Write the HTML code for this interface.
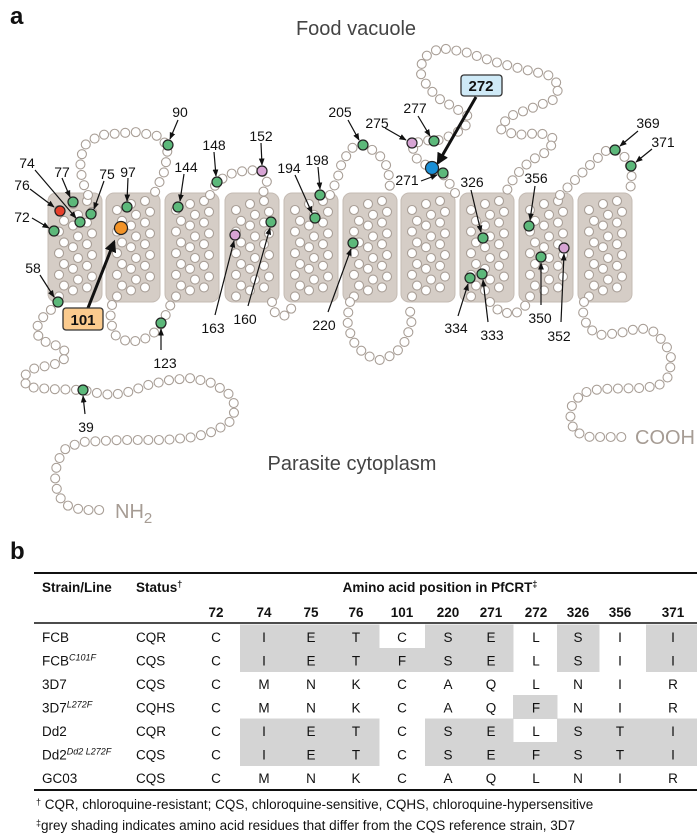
<!DOCTYPE html>
<html><head><meta charset="utf-8"><style>
html,body{margin:0;padding:0;background:#fff;}
svg{display:block;font-family:"Liberation Sans",Arial,sans-serif;}
.lb{font-family:"Liberation Sans Narrow","Liberation Sans",sans-serif;font-size:14px;fill:#111;text-anchor:middle;}
.tb{font-size:13.5px;fill:#111;}
.tc{text-anchor:middle;}
.hd{font-weight:bold;}
</style></head><body>
<svg id="s" width="697" height="839" viewBox="0 0 697 839" xmlns="http://www.w3.org/2000/svg">
<defs><marker id="ar" viewBox="0 0 10 10" refX="9" refY="5" markerWidth="6" markerHeight="6" orient="auto"><path d="M0,1 L10,5 L0,9 z" fill="#111"/></marker>
<marker id="ar2" viewBox="0 0 10 10" refX="8" refY="5" markerWidth="4" markerHeight="4" orient="auto"><path d="M0,0 L10,5 L0,10 z" fill="#111"/></marker></defs>
<g id="helices"></g>
<g id="loops"></g>
<text x="10" y="24" font-size="24" font-weight="bold" fill="#111">a</text>
<text x="356" y="35" font-size="20" fill="#444" text-anchor="middle">Food vacuole</text>
<text x="352" y="470" font-size="20" fill="#444" text-anchor="middle">Parasite cytoplasm</text>
<text x="115" y="518" font-size="20" fill="#a69c94">NH<tspan font-size="15" dy="5">2</tspan></text>
<text x="635" y="444" font-size="20" fill="#a69c94">COOH</text>
<g id="arrows" stroke="#111" stroke-width="1.2" fill="none">
<line x1="178" y1="120" x2="170" y2="139" marker-end="url(#ar)"/>
<line x1="35" y1="170" x2="76" y2="218" marker-end="url(#ar)"/>
<line x1="62" y1="178" x2="70" y2="197" marker-end="url(#ar)"/>
<line x1="104" y1="181" x2="94" y2="209" marker-end="url(#ar)"/>
<line x1="30" y1="189" x2="54" y2="207" marker-end="url(#ar)"/>
<line x1="32" y1="218" x2="49" y2="228" marker-end="url(#ar)"/>
<line x1="128" y1="178" x2="127" y2="201" marker-end="url(#ar)"/>
<line x1="40" y1="275" x2="54" y2="297" marker-end="url(#ar)"/>
<line x1="184" y1="174" x2="180" y2="201" marker-end="url(#ar)"/>
<line x1="214" y1="152" x2="216" y2="176" marker-end="url(#ar)"/>
<line x1="261" y1="143" x2="262" y2="165" marker-end="url(#ar)"/>
<line x1="295" y1="175" x2="312" y2="213" marker-end="url(#ar)"/>
<line x1="318" y1="167" x2="320" y2="189" marker-end="url(#ar)"/>
<line x1="215" y1="315" x2="234" y2="241" marker-end="url(#ar)"/>
<line x1="248" y1="306" x2="270" y2="228" marker-end="url(#ar)"/>
<line x1="328" y1="312" x2="351" y2="249" marker-end="url(#ar)"/>
<line x1="161" y1="350" x2="161" y2="329" marker-end="url(#ar)"/>
<line x1="85" y1="414" x2="83" y2="396" marker-end="url(#ar)"/>
<line x1="348" y1="120" x2="359" y2="140" marker-end="url(#ar)"/>
<line x1="385" y1="128" x2="406" y2="140" marker-end="url(#ar)"/>
<line x1="418" y1="116" x2="430" y2="136" marker-end="url(#ar)"/>
<line x1="421" y1="181" x2="437" y2="175" marker-end="url(#ar)"/>
<line x1="471" y1="190" x2="481" y2="232" marker-end="url(#ar)"/>
<line x1="535" y1="186" x2="530" y2="220" marker-end="url(#ar)"/>
<line x1="638" y1="131" x2="620" y2="146" marker-end="url(#ar)"/>
<line x1="652" y1="149" x2="636" y2="162" marker-end="url(#ar)"/>
<line x1="458" y1="316" x2="468" y2="284" marker-end="url(#ar)"/>
<line x1="488" y1="322" x2="483" y2="280" marker-end="url(#ar)"/>
<line x1="541" y1="305" x2="541" y2="263" marker-end="url(#ar)"/>
<line x1="561" y1="322" x2="564" y2="254" marker-end="url(#ar)"/>
</g>
<g stroke="#111" stroke-width="3" fill="none">
<line x1="88" y1="308" x2="114" y2="242" marker-end="url(#ar2)"/>
<line x1="476" y1="97" x2="438" y2="163" marker-end="url(#ar2)"/>
</g>
<g id="marks" stroke="#222" stroke-width="1.2"></g>
<rect x="63" y="308" width="40" height="22" rx="3" fill="#fbcb8e" stroke="#333" stroke-width="1.3"/>
<text x="83" y="325" font-size="15" font-weight="bold" text-anchor="middle" fill="#111">101</text>
<rect x="461" y="75" width="41" height="21" rx="3" fill="#cfeaf7" stroke="#333" stroke-width="1.3"/>
<text x="481" y="91" font-size="15" font-weight="bold" text-anchor="middle" fill="#111">272</text>
<g class="lb">
<text x="180" y="117">90</text><text x="27" y="168">74</text><text x="62" y="177">77</text><text x="107" y="179">75</text>
<text x="22" y="190">76</text><text x="22" y="222">72</text><text x="128" y="177">97</text><text x="33" y="273">58</text>
<text x="186" y="172">144</text><text x="214" y="150">148</text><text x="261" y="141">152</text><text x="289" y="173">194</text>
<text x="317" y="165">198</text><text x="213" y="333">163</text><text x="245" y="324">160</text><text x="324" y="330">220</text>
<text x="165" y="368">123</text><text x="86" y="432">39</text><text x="340" y="117">205</text><text x="377" y="128">275</text>
<text x="415" y="113">277</text><text x="407" y="185">271</text><text x="472" y="187">326</text><text x="536" y="183">356</text>
<text x="648" y="128">369</text><text x="663" y="147">371</text><text x="456" y="333">334</text><text x="492" y="340">333</text>
<text x="540" y="323">350</text><text x="559" y="341">352</text>
</g>
<!-- table -->
<text x="10" y="559" font-size="24" font-weight="bold" fill="#111">b</text>
<g id="shade" fill="#d4d4d4"></g>
<line x1="34" y1="573" x2="697" y2="573" stroke="#111" stroke-width="2"/>
<line x1="34" y1="623" x2="697" y2="623" stroke="#111" stroke-width="1.5"/>
<line x1="34" y1="790" x2="697" y2="790" stroke="#111" stroke-width="2"/>
<g class="tb hd">
<text x="42" y="592">Strain/Line</text><text x="136" y="592">Status<tspan font-size="9" dy="-5">†</tspan></text>
<text x="440" y="592" text-anchor="middle">Amino acid position in PfCRT<tspan font-size="9" dy="-5">‡</tspan></text>
</g>
<g id="tbl" class="tb"></g>
<text x="36" y="809" class="tb"><tspan font-size="9" dy="-4">†</tspan><tspan dy="4"> CQR, chloroquine-resistant; CQS, chloroquine-sensitive, CQHS, chloroquine-hypersensitive</tspan></text>
<text x="36" y="830" class="tb"><tspan font-size="9" dy="-4">‡</tspan><tspan dy="4">grey shading indicates amino acid residues that differ from the CQS reference strain, 3D7</tspan></text>
</svg>
<script>
var NS="http://www.w3.org/2000/svg";
function el(p,t,a){var e=document.createElementNS(NS,t);for(var k in a)e.setAttribute(k,a[k]);p.appendChild(e);return e;}
var H=document.getElementById('helices'),L=document.getElementById('loops'),M=document.getElementById('marks');
var hx=[48,106,165,225,284,343,401,460,519,578];
hx.forEach(function(x){
 el(H,'rect',{x:x,y:193,width:54,height:109,rx:8,fill:'#d5cdc6',stroke:'#c4bbb3','stroke-width':1});
 for(var j=0;j<9;j++){for(var c=0;c<3;c++){
  var cx=x+11+c*14+(j%2?5:0), cy=193+14+j*10.8-c*3+(c==0?3:0);
  if(cy<199||cy>297||cx>x+49)continue;
  el(H,'circle',{cx:cx,cy:cy,r:4.5,fill:'#fff',stroke:'#a99f97','stroke-width':1.1});
 }}
});
var paths=[
[[88,195],[82,180],[80,160],[85,145],[100,135],[135,132],[158,136],[168,146],[165,170],[155,192]],
[[112,305],[110,320],[115,335],[128,342],[143,340],[155,332],[162,323],[168,310],[172,302]],
[[210,195],[217,182],[230,174],[248,170],[262,171],[267,182],[263,193]],
[[272,302],[275,313],[286,316],[293,306]],
[[330,195],[337,180],[342,162],[352,148],[363,145],[378,153],[388,168],[390,188]],
[[350,302],[347,320],[352,340],[365,355],[380,360],[395,354],[406,340],[412,320],[408,302]],
[[455,193],[445,176],[430,168],[416,158],[412,145],[423,140],[436,141],[450,136],[465,128],[468,116],[455,108],[438,98],[427,86],[420,72],[423,58],[440,48],[465,52],[495,62],[522,69],[548,75],[560,86],[553,100],[532,108],[508,117],[500,129],[516,135],[540,133],[555,139],[548,151],[530,161],[515,176],[506,192]],
[[490,302],[500,312],[515,314],[526,305]],
[[560,195],[575,180],[592,163],[607,150],[615,150],[626,158],[631,168],[632,182],[628,195]],
[[58,302],[49,312],[40,320],[36,330],[40,340],[52,344],[63,348],[67,356],[60,363],[46,366],[32,369],[23,377],[27,387],[50,389],[83,390],[97,393],[112,395],[128,392],[148,385],[170,380],[192,378],[212,383],[228,393],[236,407],[231,421],[215,431],[195,437],[165,440],[120,440],[82,442],[66,448],[57,462],[55,480],[58,495],[66,505],[82,510],[108,510]],
[[584,302],[583,315],[588,328],[600,335],[620,333],[640,328],[655,332],[666,345],[672,360],[668,377],[658,386],[640,388],[600,389],[582,393],[572,405],[570,420],[575,432],[590,437],[628,437]]
];
paths.forEach(function(p){
 var acc=0,step=10.6,first=true;
 for(var i=1;i<p.length;i++){
  var x0=p[i-1][0],y0=p[i-1][1],dx=p[i][0]-x0,dy=p[i][1]-y0,d=Math.hypot(dx,dy),t=first?0:step-acc;first=false;
  while(t<=d){el(L,'circle',{cx:x0+dx*t/d,cy:y0+dy*t/d,r:4.5,fill:'#fff',stroke:'#a99f97','stroke-width':1.1});t+=step;}
  acc=d-(t-step);
 }
});
var G='#5cb87a',P='#d7a4d4';
[[168,145,G],[80,222,G],[73,202,G],[91,214,G],[60,211,'#e8402c'],[54,231,G],[127,207,G],[58,302,G],[178,207,G],[217,182,G],[262,171,P],[315,218,G],[320,195,G],[235,235,P],[271,222,G],[353,243,G],[161,323,G],[83,390,G],[363,145,G],[412,143,P],[434,141,G],[443,173,G],[483,238,G],[529,226,G],[615,150,G],[631,166,G],[470,278,G],[482,274,G],[541,257,G],[564,248,P]].forEach(function(m){
 el(M,'circle',{cx:m[0],cy:m[1],r:5,fill:m[2]});
});
el(M,'circle',{cx:121,cy:228,r:6.5,fill:'#f29327'});
el(M,'circle',{cx:432,cy:168,r:6.5,fill:'#1a8fd6'});
// table
var T=document.getElementById('tbl'),S=document.getElementById('shade');
var cols=[216,264,311,356,402,448,491,536,578,620,673];
var bnd=[192,240,288,333,379,425,470,513,557,599,646,697];
var nums=['72','74','75','76','101','220','271','272','326','356','371'];
nums.forEach(function(n,i){var t=el(T,'text',{x:cols[i],y:617,'text-anchor':'middle','font-weight':'bold'});t.textContent=n;});
var rows=[
['FCB','','CQR','CIETCSELSII','01110110101'],
['FCB','C101F','CQS','CIETFSELSII','01111110101'],
['3D7','','CQS','CMNKCAQLNIR','00000000000'],
['3D7','L272F','CQHS','CMNKCAQFNIR','00000001000'],
['Dd2','','CQR','CIETCSELSTI','01110110111'],
['Dd2','Dd2 L272F','CQS','CIETCSEFSTI','01110111111'],
['GC03','','CQS','CMNKCAQLNIR','00000000000']];
rows.forEach(function(r,k){
 var cy=637+23.5*k;
 for(var i=0;i<11;i++){ if(r[4][i]=='1') el(S,'rect',{x:bnd[i],y:cy-12.5,width:bnd[i+1]-bnd[i]+0.5,height:24});}
 var t=el(T,'text',{x:42,y:cy+5});t.textContent=r[0];
 if(r[1]){var s=el(t,'tspan',{'font-size':'9','font-style':'italic',dy:'-5'});s.textContent=r[1];}
 t=el(T,'text',{x:136,y:cy+5});t.textContent=r[2];
 for(i=0;i<11;i++){t=el(T,'text',{x:cols[i],y:cy+5,'text-anchor':'middle'});t.textContent=r[3][i];}
});
</script>
</body></html>
